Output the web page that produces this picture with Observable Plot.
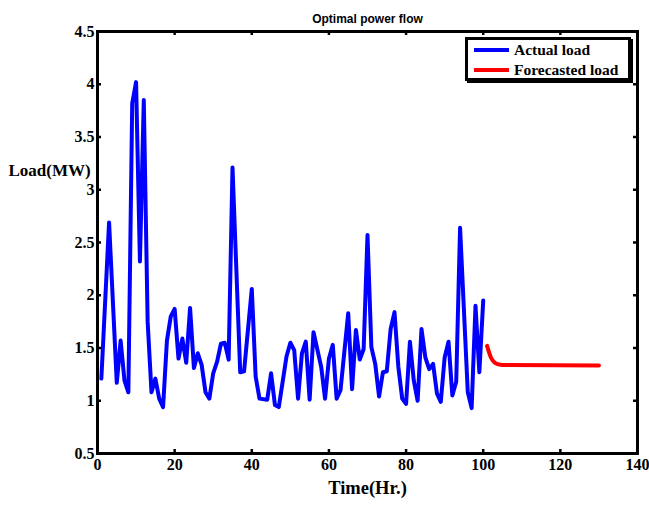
<!DOCTYPE html>
<html>
<head>
<meta charset="utf-8">
<script src="https://cdn.jsdelivr.net/npm/d3@7"></script>
<script src="https://cdn.jsdelivr.net/npm/@observablehq/plot@0.6"></script>
<style>
  body { margin: 0; background: #fff; }
  #wrap { position: relative; width: 649px; height: 506px; }
  #legend {
    position: absolute; left: 465px; top: 37px; width: 160px; height: 38px;
    border: 3px solid #000; box-shadow: 2px 2px 0 #000; background: #fff;
    font-family: "Liberation Serif", serif; font-weight: bold; font-size: 15.5px;
  }
  .row { position: absolute; left: 0; display: flex; align-items: center; height: 20px; }
  .sw { width: 35px; height: 4px; margin-left: 6px; margin-right: 5px; }
</style>
</head>
<body>
<div id="wrap"></div>
<script>
// Time (Hr.) and load (MW)
const actualHours = [1,3,5,6,7,8,9,10,11,12,13,14,15,16,17,18,19,20,21,22,23,24,25,26,27,28,29,30,31,32,33,34,35,37,38,40,41,42,44,45,46,47,49,50,51,52,53,54,55,56,58,59,60,61,62,63,65,66,67,68,69,70,71,72,73,74,75,76,77,78,79,80,81,82,83,84,85,86,87,88,89,90,91,92,93,94,96,97,98,99,100];
const actualLoad = [1.21,2.69,1.17,1.57,1.19,1.08,3.82,4.02,2.32,3.85,1.75,1.08,1.21,1.02,0.94,1.57,1.80,1.87,1.40,1.59,1.36,1.88,1.31,1.45,1.34,1.08,1.02,1.26,1.37,1.54,1.55,1.39,3.21,1.27,1.28,2.06,1.23,1.02,1.01,1.26,0.96,0.94,1.42,1.55,1.48,1.02,1.45,1.56,1.01,1.65,1.32,1.02,1.40,1.53,1.02,1.10,1.83,1.11,1.67,1.39,1.49,2.57,1.51,1.35,1.04,1.27,1.28,1.68,1.84,1.32,1.02,0.97,1.56,1.19,1.00,1.68,1.41,1.30,1.35,1.07,0.99,1.41,1.56,1.05,1.18,2.64,1.08,0.93,1.90,1.27,1.95];
const forecastHours = [101,102,103,104,105,130];
const forecastLoad = [1.52,1.41,1.36,1.345,1.34,1.335];
const xTicks = [0,20,40,60,80,100,120,140];
const yTicks = [0.5,1,1.5,2,2.5,3,3.5,4,4.5];
const seriesNames = ["Actual load","Forecasted load"];
const seriesColors = ["#0000ff","#ff0000"];
const titleText = "Optimal power flow";
const xLabel = "Time(Hr.)";
const yLabel = "Load(MW)";

const actual = actualHours.map((h,i) => ({x: h, y: actualLoad[i]}));
const forecast = forecastHours.map((h,i) => ({x: h, y: forecastLoad[i]}));

const W = 649, H = 506, mL = 97, mR = 12, mT = 31, mB = 53;
const pw = W - mL - mR, ph = H - mT - mB;

const chart = Plot.plot({
  width: W, height: H,
  marginLeft: mL, marginRight: mR, marginTop: mT, marginBottom: mB,
  style: {fontFamily: "Liberation Serif, serif", fontWeight: "bold", background: "#fff", color: "#000"},
  x: {domain: [0,140]},
  y: {domain: [0.5,4.5]},
  marks: [
    Plot.text([yLabel], {frameAnchor: "top-left", text: d => d, textAnchor: "start", dx: -89, dy: 132, fontSize: 17, fontWeight: "bold"}),
    Plot.text([titleText], {frameAnchor: "top", text: d => d, dy: -17, fontSize: 12, fontWeight: "bold", fontFamily: "Liberation Sans, Arial, sans-serif"}),
    Plot.text([xLabel], {frameAnchor: "bottom", text: d => d, dy: 40, fontSize: 18.5, fontWeight: "bold"}),
    Plot.axisX(xTicks, {tickSize: 0, tickPadding: 5, fontSize: 16, fontWeight: "bold", label: null, tickFormat: d3.format("~g")}),
    Plot.axisY(yTicks, {tickSize: 0, tickPadding: 3, fontSize: 16, fontWeight: "bold", label: null, tickFormat: d3.format("~g")}),
    Plot.line(actual, {x: "x", y: "y", stroke: seriesColors[0], strokeWidth: 4, strokeLinejoin: "round", strokeLinecap: "round"}),
    Plot.line(forecast, {x: "x", y: "y", stroke: seriesColors[1], strokeWidth: 4, strokeLinejoin: "round", strokeLinecap: "round", curve: "monotone-x"}),
    Plot.tickY(yTicks, {y: d => d, insetRight: pw - 4, strokeWidth: 2.5}),
    Plot.tickY(yTicks, {y: d => d, insetLeft: pw - 4, strokeWidth: 2.5}),
    Plot.tickX(xTicks, {x: d => d, insetTop: ph - 4, strokeWidth: 2.5}),
    Plot.tickX(xTicks, {x: d => d, insetBottom: ph - 4, strokeWidth: 2.5}),
    Plot.frame({stroke: "#000", strokeWidth: 3})
  ]
});

const wrap = document.getElementById("wrap");
wrap.appendChild(chart);

const legend = document.createElement("div");
legend.id = "legend";
seriesNames.forEach((name, i) => {
  const row = document.createElement("div");
  row.className = "row";
  row.style.top = (i === 0 ? 0 : 20) + "px";
  const sw = document.createElement("div");
  sw.className = "sw";
  sw.style.background = seriesColors[i];
  const t = document.createElement("span");
  t.textContent = name;
  row.appendChild(sw); row.appendChild(t);
  legend.appendChild(row);
});
wrap.appendChild(legend);
</script>
</body>
</html>
